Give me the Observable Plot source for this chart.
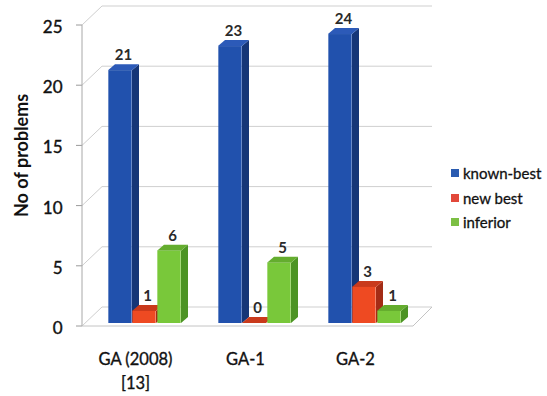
<!DOCTYPE html>
<html><head><meta charset="utf-8">
<script src="https://cdn.jsdelivr.net/npm/d3@7"></script>
<script src="https://cdn.jsdelivr.net/npm/@observablehq/plot@0.6"></script>
<style>
body{margin:0;background:#fff;font-family:Lato,"Open Sans",sans-serif;}
#wrap{position:relative;width:547px;height:396px;}
#legend{position:absolute;left:451px;top:161px;font-size:15px;color:#111;-webkit-text-stroke:0.3px #111;}
.item{display:flex;align-items:center;height:24.5px;}
.sw{width:8px;height:8px;margin-right:4px;}
</style></head><body><div id="wrap"><div id="legend"></div></div>
<script>
const groups = ["GA (2008)\n[13]", "GA-1", "GA-2"];
const series = ["known-best", "new best", "inferior"];
const knownBest = [21, 23, 24];
const newBest = [1, 0, 3];
const inferior = [6, 5, 1];
const yTicks = [0, 5, 10, 15, 20, 25];

const colors = ["#2151ad", "#ee4a22", "#79c83a"];
const sideColors = ["#163677", "#a32c16", "#4c9424"];
const topColors = ["#2c5ab8", "#c93a1c", "#64ad2e"];
const legendColors = ["#2a5bb0", "#e2483a", "#7cbf44"];

const values = [knownBest, newBest, inferior];
const data = series.flatMap((s, si) => groups.map((g, gi) => ({group: g, series: s, si, value: values[si][gi]})));

const W = 547, H = 396, ML = 82, MR = 127, MT = 22, MB = 73;
const BAR_W = 24;
const offsets = [-24, 0, 25];
const DEPTH_X = 7, DEPTH_Y = 6;
const BAND = (W - ML - MR - 6) / groups.length;
const INSET = (BAND - BAR_W) / 2;

function walls(index, scales, values, dims) {
  const y = scales.y;
  const g = d3.create("svg:g").attr("fill", "none");
  const L = dims.marginLeft, R = dims.width - dims.marginRight;
  const DX = 20;
  const front = v => y(v) + 3, back = v => y(v) - 16;
  const line = (x1, y1, x2, y2, c) => g.append("line").attr("x1", x1).attr("y1", y1).attr("x2", x2).attr("y2", y2).attr("stroke", c).attr("stroke-width", 1);
  for (const v of yTicks) {
    line(L + DX, back(v), R + 12, back(v), "#cfcfcf");
    line(L, front(v), L + DX, back(v), "#cfcfcf");
    line(L - 6, front(v), L, front(v), "#9a9a9a");
  }
  line(L, front(25), L, front(0), "#a8a8a8");
  line(L, front(0), R - 7, front(0), "#c4c4c4");
  line(R - 7, front(0), R + 12, back(0), "#c4c4c4");
  return g.node();
}

function faces(index, scales) {
  const x = scales.x, y = scales.y;
  const step = x(groups[1]) - x(groups[0]);
  const g = d3.create("svg:g");
  for (const d of data) {
    const c = x(d.group) + step / 2 + offsets[d.si];
    const xl = c - BAR_W / 2, xr = c + BAR_W / 2;
    const yt = y(d.value), yb = y(0);
    g.append("polygon")
      .attr("points", [[xr, yt], [xr + DEPTH_X, yt - DEPTH_Y], [xr + DEPTH_X, yb - DEPTH_Y], [xr, yb]].join(" "))
      .attr("fill", sideColors[d.si]);
    g.append("polygon")
      .attr("points", [[xl, yt], [xl + DEPTH_X, yt - DEPTH_Y], [xr + DEPTH_X, yt - DEPTH_Y], [xr, yt]].join(" "))
      .attr("fill", topColors[d.si]);
  }
  return g.node();
}

const chart = Plot.plot({
  width: W, height: H,
  marginLeft: ML, marginRight: MR, marginTop: MT, marginBottom: MB,
  x: {domain: groups, padding: 0, insetLeft: 6, axis: null},
  y: {domain: [0, 25], axis: null},
  style: {fontFamily: "Lato, 'Open Sans', sans-serif", background: "transparent", overflow: "visible"},
  marks: [
    walls,
    faces,
    ...series.map((s, si) => Plot.barY(data.filter(d => d.si === si), {
      x: "group", y: "value", fill: colors[si], dx: offsets[si], insetLeft: INSET, insetRight: INSET
    })),
    ...series.map((s, si) => Plot.text(data.filter(d => d.si === si), {
      x: "group", y: "value", text: d => String(d.value), dx: offsets[si] + 3, dy: -15,
      fontSize: 15, fontWeight: "bold", fill: "#2a2a2a"
    })),
    Plot.text(yTicks, {y: d => d, text: d => String(d), frameAnchor: "left", dx: -20, dy: 5, textAnchor: "end", fontSize: 17, fill: "#111", stroke: "#111", strokeWidth: 0.4}),
    Plot.text(groups, {x: d => d, text: d => d, frameAnchor: "bottom", dy: 25, dx: -9, lineAnchor: "top", lineHeight: 1.45, fontSize: 16.5, fill: "#111", stroke: "#111", strokeWidth: 0.35}),
    Plot.text(["No of problems"], {text: d => d, frameAnchor: "left", rotate: -90, dx: -60, dy: 44, fontSize: 18, fontWeight: "bold", fill: "#111"})
  ]
});
document.getElementById("wrap").prepend(chart);

const legend = document.getElementById("legend");
series.forEach((s, i) => {
  const item = document.createElement("div");
  item.className = "item";
  const sw = document.createElement("span");
  sw.className = "sw";
  sw.style.background = legendColors[i];
  const t = document.createElement("span");
  t.textContent = s;
  item.append(sw, t);
  legend.append(item);
});
</script>
</body></html>
